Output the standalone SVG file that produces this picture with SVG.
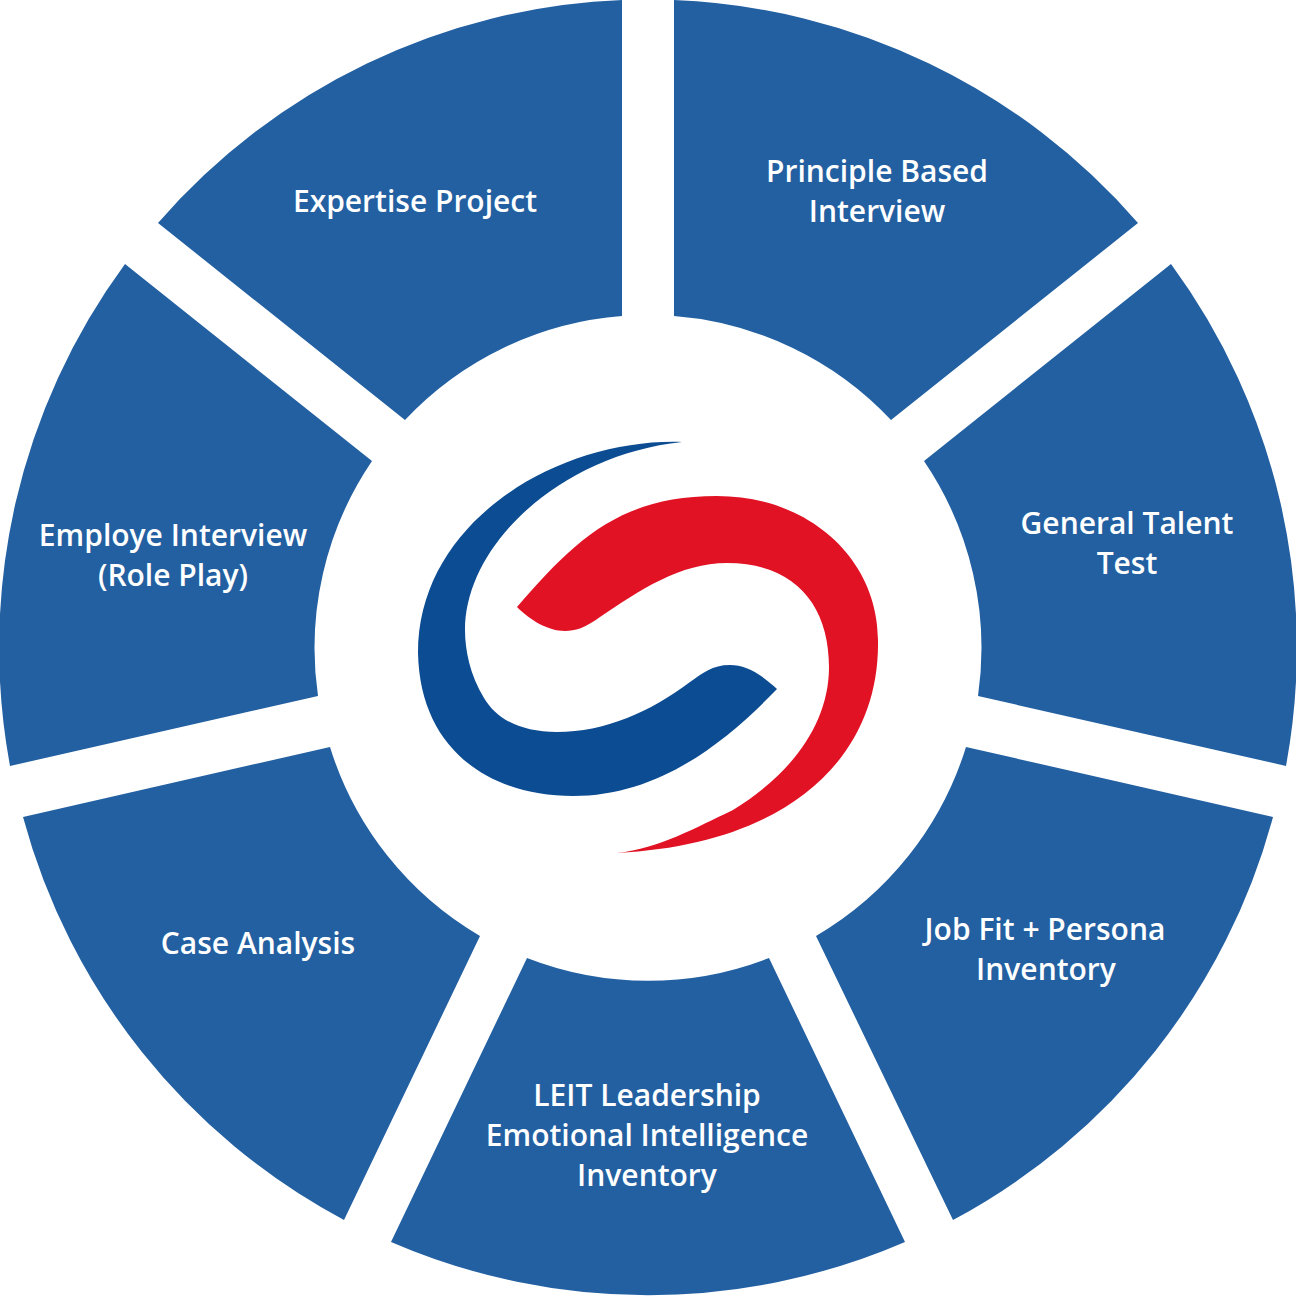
<svg xmlns="http://www.w3.org/2000/svg" width="1296" height="1296" viewBox="0 0 1296 1296">
<style>
.seg{fill:#2360a2}
text{font-family:"Open Sans","Noto Sans",sans-serif;font-size:30px;fill:#fff;text-anchor:middle;font-weight:600}
</style>
<rect width="1296" height="1296" fill="#fff"/>
<g id="segment-principle"><path class="seg" d="M674 0A648 648 0 0 1 1138 223L891 420A333 333 0 0 0 674 316Z"/><text x="877" y="182">Principle Based</text><text x="877" y="222">Interview</text></g>
<g id="segment-talent"><path class="seg" d="M1171 264A648 648 0 0 1 1286 766L978 696A333 333 0 0 0 924 461Z"/><text x="1127" y="534">General Talent</text><text x="1127" y="574">Test</text></g>
<g id="segment-jobfit"><path class="seg" d="M1273 817A648 648 0 0 1 953 1220L816 936A333 333 0 0 0 966 747Z"/><text x="1045" y="940">Job Fit + Persona</text><text x="1046" y="980">Inventory</text></g>
<g id="segment-leit"><path class="seg" d="M905 1242A648 648 0 0 1 391 1242L527 958A333 333 0 0 0 769 958Z"/><text x="647" y="1106">LEIT Leadership</text><text x="647" y="1146">Emotional Intelligence</text><text x="647" y="1186">Inventory</text></g>
<g id="segment-case"><path class="seg" d="M344 1220A648 648 0 0 1 23 817L330 747A333 333 0 0 0 480 936Z"/><text x="258" y="954">Case Analysis</text></g>
<g id="segment-employe"><path class="seg" d="M10 766A648 648 0 0 1 125 264L372 461A333 333 0 0 0 318 696Z"/><text x="173" y="546">Employe Interview</text><text x="173" y="586">(Role Play)</text></g>
<g id="segment-expertise"><path class="seg" d="M158 223A648 648 0 0 1 622 0V316A333 333 0 0 0 405 420Z"/><text x="415" y="212">Expertise Project</text></g>
<g id="logo">
<path fill="#0c4c92" d="M682 442C560 438 418 520 418 653C420 750 490 796 573 796C657 796 723 745 777 689C760 673 745 665 730 665C712 665 703 673 690 682C650 712 605 732 557 732C522 732 497 720 484 698C470 675 465 650 465 630C465 545 560 455 682 442Z"/>
<path fill="#e21225" d="M517 607C575 540 620 496 717 496C810 496 878 560 878 640C880 760 785 845 617 853C660 848 695 828 733 810C790 775 829 725 829 667C829 605 795 563 727 563C680 563 640 590 600 617C585 628 575 631 565 631C548 631 530 620 517 607Z"/>
</g>
</svg>
